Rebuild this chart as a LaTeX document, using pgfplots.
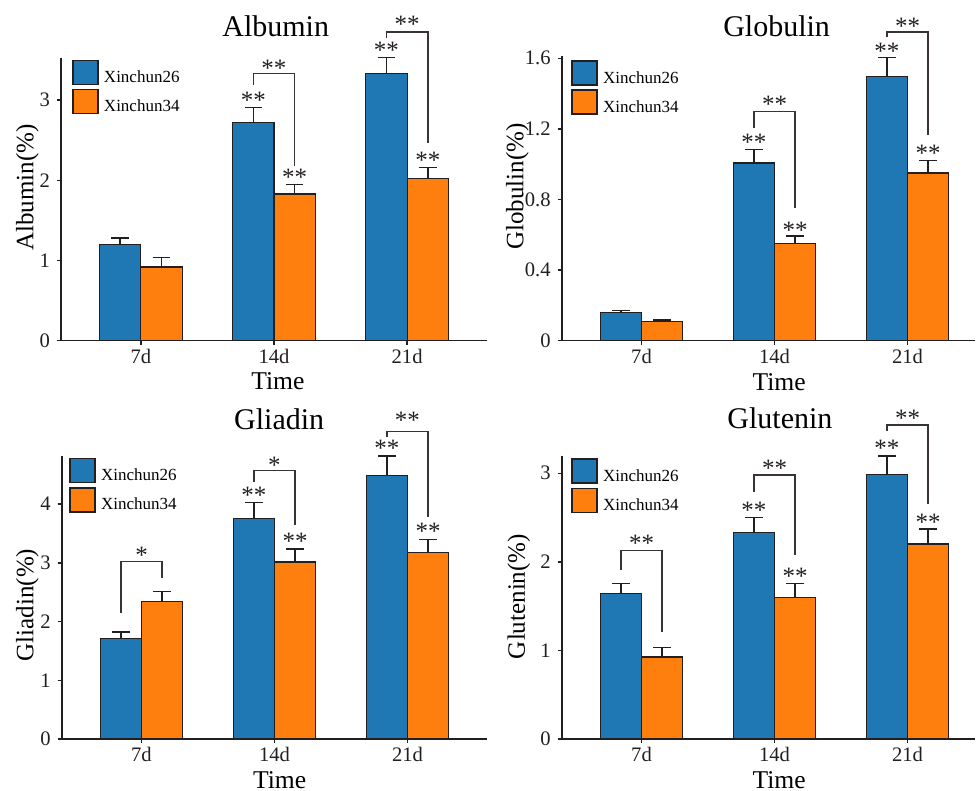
\documentclass[border=0pt]{standalone}
\usepackage{fontspec}
\setmainfont{Liberation Serif}
\usepackage{pgfplots}
\usepackage{pgfplotstable}
\pgfplotsset{compat=1.18}
\definecolor{c26}{HTML}{1F77B4}
\definecolor{c34}{HTML}{FF7F0E}
\definecolor{ink}{HTML}{231F20}
\definecolor{brk}{HTML}{3A3333}

% x: 1=7d 2=14d 3=21d ; a/ae = Xinchun26 mean/upper error ; b/be = Xinchun34
\pgfplotstableread{
x a ae b be
1 1.20 0.08 0.92 0.12
2 2.72 0.19 1.83 0.12
3 3.33 0.20 2.02 0.14
}\albumin
\pgfplotstableread{
x a ae b be
1 0.159 0.011 0.108 0.009
2 1.007 0.075 0.552 0.041
3 1.496 0.108 0.950 0.070
}\globulin
\pgfplotstableread{
x a ae b be
1 1.715 0.105 2.346 0.170
2 3.760 0.270 3.015 0.222
3 4.490 0.330 3.174 0.226
}\gliadin
\pgfplotstableread{
x a ae b be
1 1.645 0.112 0.925 0.110
2 2.333 0.169 1.600 0.157
3 2.983 0.211 2.200 0.170
}\glutenin

\pgfplotsset{
  panel/.style={
    scale only axis, clip=false, anchor=south west,
    ybar, bar width=0.31, xmin=0.4, ymin=0, enlargelimits=false,
    axis x line*=bottom, axis y line*=left,
    axis line style={line width=0.8pt, ink},
    tick align=outside, major tick length=2pt,
    tick style={line width=0.7pt, ink},
    xtick={1,2,3}, xticklabels={7d,14d,21d},
    /pgf/number format/assume math mode=true,
    ticklabel style={font=\fontsize{10.3}{12}\selectfont, text=ink},
    xticklabel style={anchor=base, yshift=-9.3pt},
    title style={anchor=base, yshift=-6pt, font=\fontsize{15}{18}\selectfont},
    xlabel={Time},
    xlabel style={anchor=base, font=\fontsize{12.8}{15}\selectfont},
    ylabel style={anchor=base, font=\fontsize{12.5}{15}\selectfont},
    legend style={anchor=north west, draw=none, fill=none, inner sep=0pt,
      row sep=1.6pt, column sep=2.5pt, font=\fontsize{8.5}{10}\selectfont,
      nodes={inner sep=0pt}},
    legend cell align=left,
  },
  bar26/.style={draw=ink, line width=0.6pt, fill=c26, bar shift=-0.155,
    legend image code/.code={\draw[fill=c26, draw=ink, line width=0.8pt] (0pt,-3.15pt) rectangle (12.5pt,8.85pt);},
    error bars/.cd, y dir=plus, y explicit,
    error bar style={line width=0.75pt, ink},
    error mark options={line width=0.75pt, ink, mark size=4.4pt, rotate=90}},
  bar34/.style={draw=ink, line width=0.6pt, fill=c34, bar shift=0.155,
    legend image code/.code={\draw[fill=c34, draw=ink, line width=0.8pt] (0pt,-3.15pt) rectangle (12.5pt,8.85pt);},
    error bars/.cd, y dir=plus, y explicit,
    error bar style={line width=0.75pt, ink},
    error mark options={line width=0.75pt, ink, mark size=4.4pt, rotate=90}},
  bracket/.style={sharp plot, no marks, line width=0.75pt, brk, forget plot},
}
\tikzset{star/.style={font=\fontsize{12.5}{13}\selectfont, inner sep=0pt, anchor=center, yshift=-1.6pt, text=ink}}

\begin{document}
\begin{tikzpicture}
\path[use as bounding box] (0,0) rectangle (488pt,395.5pt);

% ---------------- Albumin
\begin{axis}[panel, at={(30.5pt,225.15pt)}, width=213pt, height=141.15pt,
  xmax=3.6, ymax=3.52, ytick={0,1,2,3},
  title={Albumin}, title style={at={(axis description cs:0.504,1.0793)}},
  ylabel={Albumin(\%)}, ylabel style={at={(axis description cs:-0.065,0.5425)}},
  xlabel style={at={(axis description cs:0.509,-0.1745)}},
  legend style={at={(axis description cs:0.0258,0.9965)}}]
\addplot[bar26] table[x=x, y=a, y error=ae] {\albumin};
\addplot[bar34] table[x=x, y=b, y error=be] {\albumin};
\legend{Xinchun26,Xinchun34}
\addplot[bracket] coordinates {(1.845,3.19) (1.845,3.33) (2.155,3.33) (2.155,2.18)};
\addplot[bracket] coordinates {(2.845,3.77) (2.845,3.85) (3.155,3.85) (3.155,2.46)};
\node[star] at (axis cs:2,3.44) {**};
\node[star] at (axis cs:3,3.98) {**};
\node[star] at (axis cs:1.845,3.035) {**};
\node[star] at (axis cs:2.155,2.078) {**};
\node[star] at (axis cs:2.845,3.666) {**};
\node[star] at (axis cs:3.155,2.287) {**};
\end{axis}

% ---------------- Globulin
\begin{axis}[panel, at={(280.85pt,225.15pt)}, width=206.65pt, height=142.1pt,
  xmax=3.507, ymax=1.61, ytick={0,0.4,0.8,1.2,1.6},
  title={Globulin}, title style={at={(axis description cs:0.52,1.072)}},
  ylabel={Globulin(\%)}, ylabel style={at={(axis description cs:-0.0929,0.5425)}},
  xlabel style={at={(axis description cs:0.526,-0.1745)}},
  legend style={at={(axis description cs:0.0225,0.988)}}]
\addplot[bar26] table[x=x, y=a, y error=ae] {\globulin};
\addplot[bar34] table[x=x, y=b, y error=be] {\globulin};
\legend{Xinchun26,Xinchun34}
\addplot[bracket] coordinates {(1.845,1.203) (1.845,1.297) (2.155,1.297) (2.155,0.75)};
\addplot[bracket] coordinates {(2.845,1.719) (2.845,1.75) (3.155,1.75) (3.155,1.165)};
\node[star] at (axis cs:2,1.36) {**};
\node[star] at (axis cs:3,1.80) {**};
\node[star] at (axis cs:1.845,1.14) {**};
\node[star] at (axis cs:2.155,0.646) {**};
\node[star] at (axis cs:2.845,1.657) {**};
\node[star] at (axis cs:3.155,1.077) {**};
\end{axis}

% ---------------- Gliadin
\begin{axis}[panel, at={(30.85pt,26pt)}, width=212.8pt, height=141.5pt,
  xmax=3.6, ymax=4.82, ytick={0,1,2,3,4},
  title={Gliadin}, title style={at={(axis description cs:0.511,1.094)}},
  ylabel={Gliadin(\%)}, ylabel style={at={(axis description cs:-0.0668,0.4735)}},
  xlabel style={at={(axis description cs:0.512,-0.1745)}},
  legend style={at={(axis description cs:0.0172,0.995)}}]
\addplot[bar26] table[x=x, y=a, y error=ae] {\gliadin};
\addplot[bar34] table[x=x, y=b, y error=be] {\gliadin};
\legend{Xinchun26,Xinchun34}
\addplot[bracket] coordinates {(0.845,2.14) (0.845,3.02) (1.155,3.02) (1.155,2.74)};
\addplot[bracket] coordinates {(1.845,4.38) (1.845,4.57) (2.155,4.57) (2.155,3.65)};
\addplot[bracket] coordinates {(2.845,5.14) (2.845,5.235) (3.155,5.235) (3.155,3.787)};
\node[star] at (axis cs:1,3.19) {*};
\node[star] at (axis cs:2,4.72) {*};
\node[star] at (axis cs:3,5.49) {**};
\node[star] at (axis cs:1.845,4.21) {**};
\node[star] at (axis cs:2.155,3.42) {**};
\node[star] at (axis cs:2.845,5.01) {**};
\node[star] at (axis cs:3.155,3.59) {**};
\end{axis}

% ---------------- Glutenin
\begin{axis}[panel, at={(280.85pt,26pt)}, width=206.65pt, height=141.3pt,
  xmax=3.507, ymax=3.19, ytick={0,1,2,3},
  title={Glutenin}, title style={at={(axis description cs:0.528,1.097)}},
  ylabel={Glutenin(\%)}, ylabel style={at={(axis description cs:-0.0888,0.504)}},
  xlabel style={at={(axis description cs:0.526,-0.1745)}},
  legend style={at={(axis description cs:0.0225,0.994)}}]
\addplot[bar26] table[x=x, y=a, y error=ae] {\glutenin};
\addplot[bar34] table[x=x, y=b, y error=be] {\glutenin};
\legend{Xinchun26,Xinchun34}
\addplot[bracket] coordinates {(0.845,1.907) (0.845,2.125) (1.155,2.125) (1.155,1.211)};
\addplot[bracket] coordinates {(1.845,2.79) (1.845,2.98) (2.155,2.98) (2.155,2.077)};
\addplot[bracket] coordinates {(2.845,3.476) (2.845,3.544) (3.155,3.544) (3.155,2.652)};
\node[star] at (axis cs:1,2.246) {**};
\node[star] at (axis cs:2,3.09) {**};
\node[star] at (axis cs:3,3.657) {**};
\node[star] at (axis cs:1.845,2.615) {**};
\node[star] at (axis cs:2.155,1.877) {**};
\node[star] at (axis cs:2.845,3.318) {**};
\node[star] at (axis cs:3.155,2.48) {**};
\end{axis}
\end{tikzpicture}
\end{document}
